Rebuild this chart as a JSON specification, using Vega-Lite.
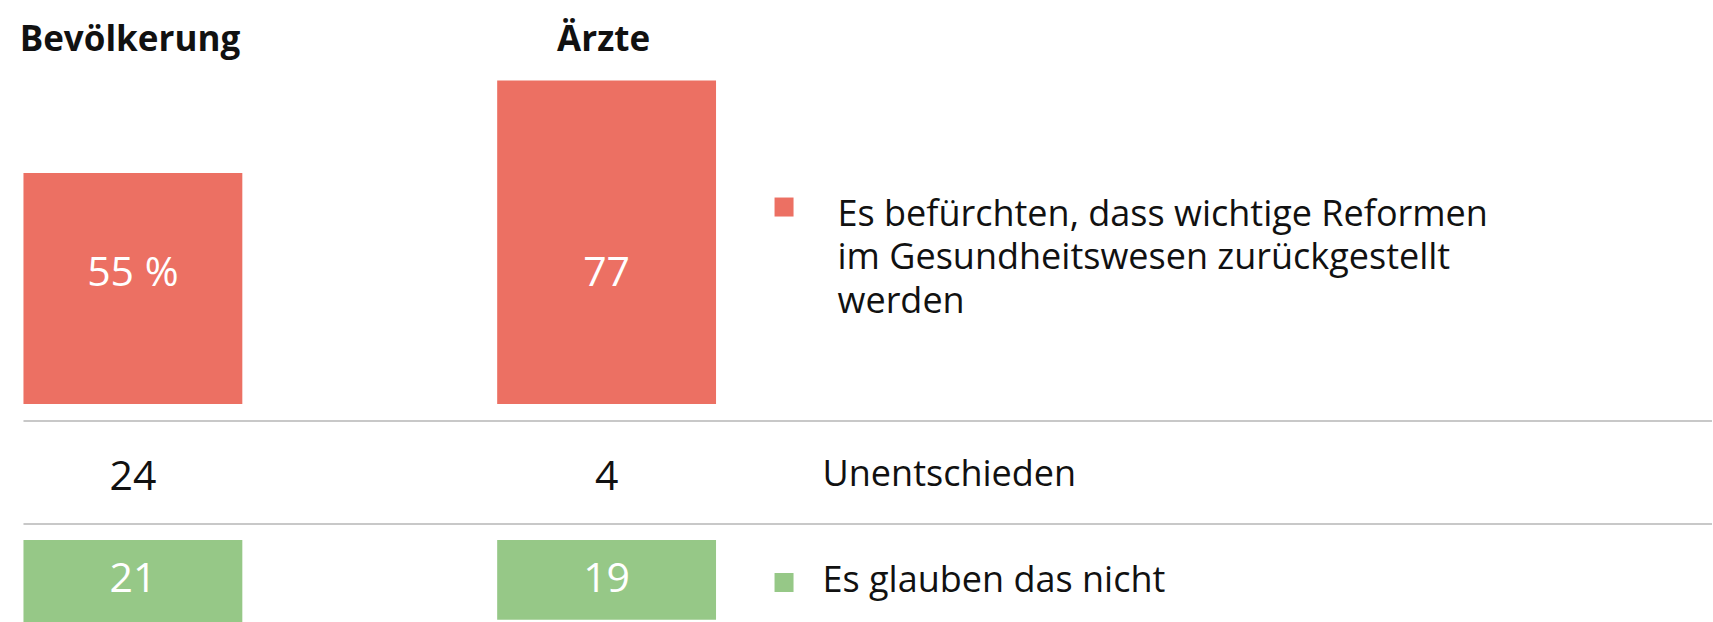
{
  "$schema": "https://vega.github.io/schema/vega-lite/v6.json",
  "width": 1713,
  "height": 622,
  "padding": 0,
  "autosize": {"type": "fit", "contains": "padding"},
  "background": "white",
  "config": {"view": {"stroke": "transparent", "fill": "white"}, "text": {"font": "Open Sans"}},
  "datasets": {
    "survey": [
      {"group": "Bevölkerung", "answer": "befürchten", "value": 55, "label": "55 %"},
      {"group": "Ärzte", "answer": "befürchten", "value": 77, "label": "77"},
      {"group": "Bevölkerung", "answer": "Unentschieden", "value": 24, "label": "24"},
      {"group": "Ärzte", "answer": "Unentschieden", "value": 4, "label": "4"},
      {"group": "Bevölkerung", "answer": "glauben", "value": 21, "label": "21"},
      {"group": "Ärzte", "answer": "glauben", "value": 19, "label": "19"}
    ],
    "legend": [
      {"answer": "befürchten", "text": "Es befürchten, dass wichtige Reformen\nim Gesundheitswesen zurückgestellt\nwerden"},
      {"answer": "Unentschieden", "text": "Unentschieden"},
      {"answer": "glauben", "text": "Es glauben das nicht"}
    ]
  },
  "data": {"name": "survey"},
  "resolve": {"scale": {"y": "independent"}},
  "layer": [
    {
      "layer": [
        {
          "transform": [{"filter": "datum.answer === 'befürchten'"}],
          "mark": {"type": "bar", "color": "#EC7063"},
          "encoding": {
            "x": {"field": "group", "type": "nominal", "scale": {"domain": ["Bevölkerung", "Ärzte", "Legende"], "paddingInner": 0.538, "paddingOuter": 0.576, "align": 0.043}, "axis": null},
            "y": {"field": "value", "type": "quantitative", "scale": {"domain": [-51.9, 96.19], "nice": false}, "axis": null},
            "y2": {"datum": 0}
          }
        },
        {
          "transform": [{"filter": "datum.answer === 'befürchten'"}],
          "mark": {"type": "text", "color": "white", "fontSize": 41, "align": "center", "baseline": "middle"},
          "encoding": {
            "x": {"field": "group", "type": "nominal", "axis": null},
            "y": {"datum": 31.0, "type": "quantitative"},
            "text": {"field": "label"}
          }
        },
        {
          "transform": [{"filter": "datum.answer === 'befürchten'"}],
          "mark": {"type": "text", "color": "#111111", "fontSize": 35, "fontWeight": "bold", "align": "center", "baseline": "alphabetic", "dx": -3},
          "encoding": {
            "x": {"field": "group", "type": "nominal", "axis": null},
            "y": {"datum": 84.05, "type": "quantitative"},
            "text": {"field": "group"}
          }
        },
        {
          "transform": [{"filter": "datum.answer === 'Unentschieden'"}],
          "mark": {"type": "text", "color": "#111111", "fontSize": 41, "align": "center", "baseline": "alphabetic"},
          "encoding": {
            "x": {"field": "group", "type": "nominal", "axis": null},
            "y": {"datum": -20.5, "type": "quantitative"},
            "text": {"field": "label"}
          }
        },
        {
          "transform": [{"filter": "datum.answer === 'Unentschieden' && datum.group === 'Bevölkerung'"}],
          "mark": {"type": "rule", "color": "#C8C8C8", "strokeWidth": 2},
          "encoding": {
            "x": {"datum": "Bevölkerung", "type": "nominal", "bandPosition": 0},
            "x2": {"value": "width"},
            "y": {"datum": -4.05, "type": "quantitative"}
          }
        },
        {
          "transform": [{"filter": "datum.answer === 'Unentschieden' && datum.group === 'Bevölkerung'"}],
          "mark": {"type": "rule", "color": "#C8C8C8", "strokeWidth": 2},
          "encoding": {
            "x": {"datum": "Bevölkerung", "type": "nominal", "bandPosition": 0},
            "x2": {"value": "width"},
            "y": {"datum": -28.57, "type": "quantitative"}
          }
        },
        {
          "transform": [{"filter": "datum.answer === 'befürchten' && datum.group === 'Bevölkerung'"}],
          "mark": {"type": "point", "shape": "square", "filled": true, "size": 361, "color": "#EC7063", "opacity": 1, "xOffset": 68},
          "encoding": {
            "x": {"datum": "Ärzte", "type": "nominal", "bandPosition": 1},
            "y": {"datum": 46.9, "type": "quantitative"}
          }
        },
        {
          "data": {"name": "legend"},
          "transform": [{"filter": "datum.answer === 'befürchten'"}],
          "mark": {"type": "text", "color": "#111111", "fontSize": 36, "lineHeight": 43.5, "lineBreak": "\n", "align": "left", "baseline": "alphabetic", "dx": 121.5},
          "encoding": {
            "x": {"datum": "Ärzte", "type": "nominal", "bandPosition": 1},
            "y": {"datum": 42.5, "type": "quantitative"},
            "text": {"field": "text"}
          }
        },
        {
          "data": {"name": "legend"},
          "transform": [{"filter": "datum.answer === 'Unentschieden'"}],
          "mark": {"type": "text", "color": "#111111", "fontSize": 36, "align": "left", "baseline": "alphabetic", "dx": 106.5},
          "encoding": {
            "x": {"datum": "Ärzte", "type": "nominal", "bandPosition": 1},
            "y": {"datum": -19.52, "type": "quantitative"},
            "text": {"field": "text"}
          }
        }
      ]
    },
    {
      "layer": [
        {
          "transform": [{"filter": "datum.answer === 'glauben'"}],
          "mark": {"type": "bar", "color": "#96C887", "clip": true},
          "encoding": {
            "x": {"field": "group", "type": "nominal", "axis": null},
            "y": {"field": "value", "type": "quantitative", "scale": {"domain": [-128.57, 19.52], "reverse": true, "nice": false}, "axis": null},
            "y2": {"datum": 0}
          }
        },
        {
          "transform": [{"filter": "datum.answer === 'glauben'"}],
          "mark": {"type": "text", "color": "white", "fontSize": 41, "align": "center", "baseline": "alphabetic"},
          "encoding": {
            "x": {"field": "group", "type": "nominal", "axis": null},
            "y": {"datum": 12.38, "type": "quantitative"},
            "text": {"field": "label"}
          }
        },
        {
          "transform": [{"filter": "datum.answer === 'glauben' && datum.group === 'Bevölkerung'"}],
          "mark": {"type": "point", "shape": "square", "filled": true, "size": 361, "color": "#96C887", "opacity": 1, "xOffset": 68},
          "encoding": {
            "x": {"datum": "Ärzte", "type": "nominal", "bandPosition": 1},
            "y": {"datum": 10.12, "type": "quantitative"}
          }
        },
        {
          "data": {"name": "legend"},
          "transform": [{"filter": "datum.answer === 'glauben'"}],
          "mark": {"type": "text", "color": "#111111", "fontSize": 36, "align": "left", "baseline": "alphabetic", "dx": 106.5},
          "encoding": {
            "x": {"datum": "Ärzte", "type": "nominal", "bandPosition": 1},
            "y": {"datum": 12.38, "type": "quantitative"},
            "text": {"field": "text"}
          }
        }
      ]
    }
  ]
}
